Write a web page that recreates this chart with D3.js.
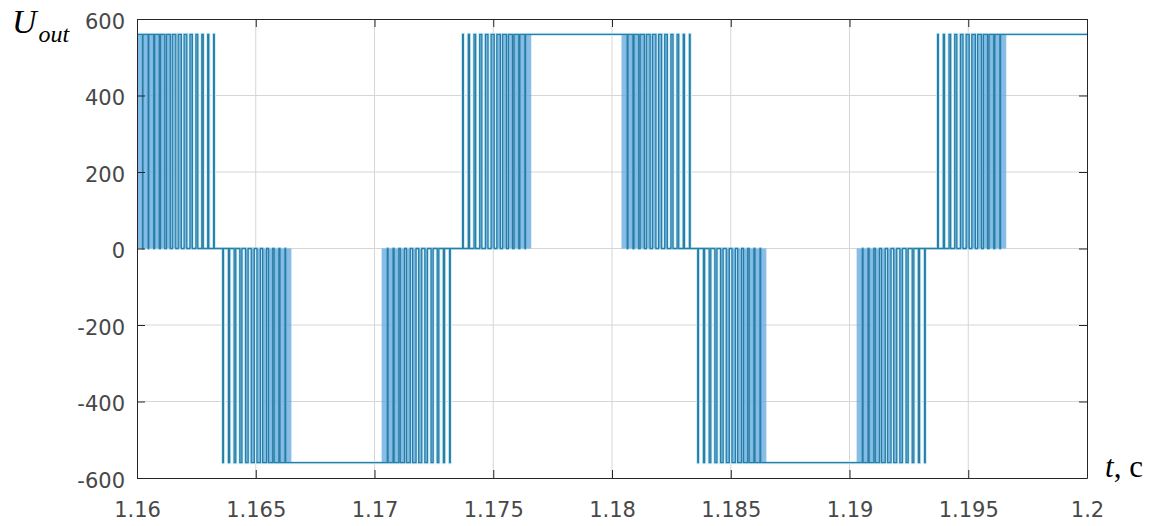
<!DOCTYPE html>
<html>
<head>
<meta charset="utf-8">
<script src="https://cdn.jsdelivr.net/npm/d3@7"></script>
<style>
  body { margin: 0; background: #fff; }
  .axis text { font-family: "DejaVu Sans", sans-serif; font-size: 21px; fill: #484848; }
  .axis path, .axis line { stroke: #262626; }
</style>
</head>
<body>
<div id="chart-area"></div>
<script>
/*
*    PWM output voltage, U_out(t)
*/

// time axis ticks and voltage axis ticks
var xTicks = [1.16, 1.165, 1.17, 1.175, 1.18, 1.185, 1.19, 1.195, 1.2];
var xTickLabels = ["1.16", "1.165", "1.17", "1.175", "1.18", "1.185", "1.19", "1.195", "1.2"];
var yTicks = [-600, -400, -200, 0, 200, 400, 600];

// pulse trains: start time (s), level (V) and which pulse pattern they use
var trainStart = [1.1600, 1.1635, 1.1703, 1.1736, 1.1804, 1.1835, 1.1903, 1.1936];
var trainLevel = [560, -560, -560, 560, 560, -560, -560, 560];
var trainShape = ["first", "rise", "fall", "rise", "fall", "rise", "fall", "rise"];

// pulse edges in microseconds after the train start [on, off]
var pulsesFirst = [[5, 235], [250, 470], [495, 705], [743, 938], [990, 1170], [1238, 1403], [1485, 1635],
    [1733, 1868], [1983, 2098], [2230, 2330], [2480, 2560], [2730, 2790], [2978, 3023], [3226, 3254]];
var pulsesRise = [[110, 140], [350, 400], [590, 660], [830, 920], [1070, 1180], [1310, 1440],
    [1550, 1700], [1790, 1960], [2035, 2215], [2275, 2475], [2518, 2732], [2758, 3000]];
var pulsesFall = [[0, 242], [268, 482], [525, 725], [785, 965], [1043, 1207], [1300, 1450],
    [1560, 1690], [1820, 1930], [2080, 2170], [2340, 2410], [2600, 2650], [2860, 2890]];

// flat parts at full voltage
var plateauStart = [1.1665, 1.1766, 1.1865, 1.1966];
var plateauEnd = [1.1703, 1.1804, 1.1903, 1.2000];
var plateauLevel = [-560, 560, -560, 560];

var shapes = { first: pulsesFirst, rise: pulsesRise, fall: pulsesFall };

var svgW = 1166, svgH = 526;
var margin = {top: 19, right: 79, bottom: 48, left: 137};
var width = svgW - margin.left - margin.right;
var height = svgH - margin.top - margin.bottom;

var x = d3.scaleLinear().domain([1.16, 1.2]).range([0, width]);
var y = d3.scaleLinear().domain([-600, 600]).range([height, 0]);

var svg = d3.select("#chart-area")
    .append("svg")
    .attr("width", svgW)
    .attr("height", svgH);

var g = svg.append("g")
    .attr("transform", "translate(" + margin.left + ", " + margin.top + ")");

// grid
g.append("g").selectAll("line").data(xTicks.slice(1, -1)).enter().append("line")
    .attr("x1", (d) => x(d)).attr("x2", (d) => x(d))
    .attr("y1", 0).attr("y2", height)
    .attr("stroke", "#d6d6d6").attr("stroke-width", 1);
g.append("g").selectAll("line").data(yTicks.slice(1, -1)).enter().append("line")
    .attr("x1", 0).attr("x2", width)
    .attr("y1", (d) => y(d)).attr("y2", (d) => y(d))
    .attr("stroke", "#d6d6d6").attr("stroke-width", 1);

// build pulses and intervals
var pulses = [];
trainStart.forEach((s, i) => {
    shapes[trainShape[i]].forEach((p) => {
        pulses.push({t0: s + p[0] * 1e-6, t1: s + p[1] * 1e-6, level: trainLevel[i]});
    });
});
var intervals = pulses.slice();
plateauStart.forEach((s, i) => {
    intervals.push({t0: s, t1: plateauEnd[i], level: plateauLevel[i]});
});
intervals.sort((a, b) => a.t0 - b.t0);

var merged = [];
intervals.forEach((iv) => {
    var last = merged[merged.length - 1];
    if (last && last.level === iv.level && iv.t0 - last.t1 < 1e-7) {
        last.t1 = Math.max(last.t1, iv.t1);
    } else {
        merged.push({t0: iv.t0, t1: iv.t1, level: iv.level});
    }
});

var points = [[1.16, 0]];
merged.forEach((iv) => {
    points.push([iv.t0, 0], [iv.t0, iv.level], [iv.t1, iv.level]);
    if (iv.t1 < 1.2 - 1e-9) points.push([iv.t1, 0]);
});

svg.append("defs").append("clipPath").attr("id", "clip")
    .append("rect").attr("width", width).attr("height", height);

var plot = g.append("g").attr("clip-path", "url(#clip)");

var line = d3.line().x((d) => x(d[0])).y((d) => y(d[1]));

// light halo round the trace (the blur seen in the picture)
plot.append("path")
    .datum(points)
    .attr("d", line)
    .attr("fill", "none")
    .attr("stroke", "#cdeefa")
    .attr("stroke-width", 3.2);

// soft fill inside the pulses
plot.selectAll("rect.pulse").data(pulses).enter().append("rect")
    .attr("class", "pulse")
    .attr("x", (d) => x(d.t0))
    .attr("width", (d) => x(d.t1) - x(d.t0))
    .attr("y", (d) => Math.min(y(0), y(d.level)))
    .attr("height", (d) => Math.abs(y(0) - y(d.level)))
    .attr("fill", "#5aa3de")
    .attr("opacity", 0.72);

plot.append("path")
    .datum(points)
    .attr("d", line)
    .attr("fill", "none")
    .attr("stroke", "#2b7ea3")
    .attr("stroke-width", 1.3);

// axes
var fmtY = (d) => String(d).replace("\u2212", "-");

g.append("g").attr("class", "axis")
    .attr("transform", "translate(0, " + height + ")")
    .call(d3.axisBottom(x).tickValues(xTicks).tickSize(-8).tickSizeOuter(0).tickPadding(24)
        .tickFormat((d, i) => xTickLabels[i]));

g.append("g").attr("class", "axis")
    .call(d3.axisLeft(y).tickValues(yTicks).tickSize(-8).tickSizeOuter(0).tickPadding(12)
        .tickFormat(fmtY))
    .selectAll("text").attr("dy", "0.45em");

g.append("g").attr("class", "axis")
    .call(d3.axisTop(x).tickValues(xTicks).tickSize(-8).tickSizeOuter(0).tickFormat(""));

g.append("g").attr("class", "axis")
    .attr("transform", "translate(" + width + ", 0)")
    .call(d3.axisRight(y).tickValues(yTicks).tickSize(-8).tickSizeOuter(0).tickFormat(""));

// axis labels
var uLabel = svg.append("text")
    .attr("x", 12)
    .attr("y", 33)
    .attr("font-family", "Liberation Serif, serif")
    .attr("font-style", "italic")
    .attr("fill", "#000");
uLabel.append("tspan").attr("font-size", "34px").text("U");
uLabel.append("tspan").attr("font-size", "24px").attr("dy", 9).attr("dx", 2).text("out");

var tLabel = svg.append("text")
    .attr("x", 1105)
    .attr("y", 477)
    .attr("font-family", "Liberation Serif, serif")
    .attr("font-size", "31px")
    .attr("fill", "#000");
tLabel.append("tspan").attr("font-style", "italic").text("t");
tLabel.append("tspan").text(", c");
</script>
</body>
</html>
